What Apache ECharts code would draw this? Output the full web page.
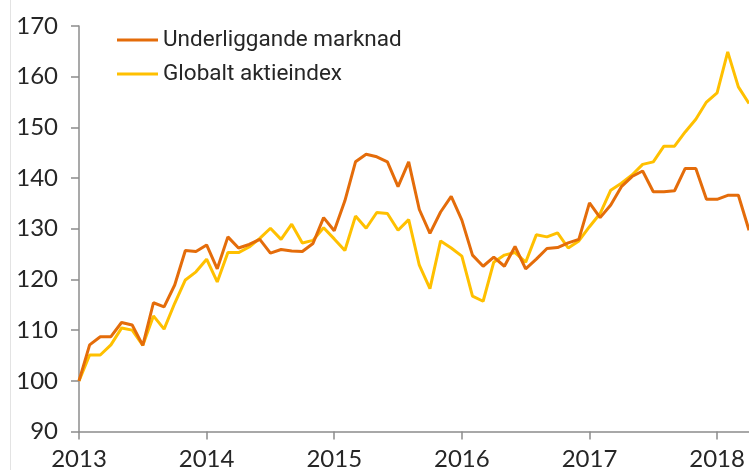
<!DOCTYPE html>
<html>
<head>
<meta charset="utf-8">
<script src="https://cdn.jsdelivr.net/npm/echarts@6/dist/echarts.min.js"></script>
<style>
  html, body { margin: 0; padding: 0; background: #fff; }
  #chart { width: 749px; height: 470px; }
</style>
</head>
<body>
<div id="chart"></div>
<script>
// monthly index values, Jan 2013 = 100
const years = ['2013', '2014', '2015', '2016', '2017', '2018'];
const seriesNames = ['Underliggande marknad', 'Globalt aktieindex'];

const underlying = [
  100, 107.1, 108.7, 108.7, 111.5, 111.0, 107.0, 115.4, 114.6, 118.9, 125.7, 125.5,
  126.8, 122.1, 128.4, 126.2, 126.9, 127.9, 125.2, 125.9, 125.6, 125.5, 127.1, 132.2,
  129.6, 135.5, 143.2, 144.7, 144.2, 143.2, 138.3, 143.2, 133.8, 129.1, 133.3, 136.4,
  131.7, 124.8, 122.6, 124.4, 122.6, 126.5, 122.1, 124.0, 126.1, 126.3, 127.2, 127.9,
  135.1, 132.2, 134.7, 138.3, 140.3, 141.4, 137.3, 137.3, 137.5, 141.9, 141.9, 135.8,
  135.8, 136.6, 136.6, 129.7
];
const globalIndex = [
  100, 105.1, 105.1, 107.1, 110.4, 110.0, 107.0, 112.8, 110.2, 115.3, 119.9, 121.5,
  124.0, 119.5, 125.3, 125.3, 126.4, 128.1, 130.1, 127.9, 130.9, 127.2, 127.7, 130.2,
  128.0, 125.7, 132.5, 130.1, 133.2, 133.0, 129.7, 131.8, 122.8, 118.2, 127.6, 126.2,
  124.6, 116.7, 115.7, 123.4, 124.8, 125.3, 123.4, 128.8, 128.4, 129.2, 126.2, 127.6,
  130.4, 133.0, 137.6, 139.0, 140.6, 142.7, 143.2, 146.3, 146.3, 149.1, 151.6, 155.0,
  156.8, 164.9, 158.0, 154.7
];

// one category per month, labelled with the year in January
const months = [];
for (let i = 0; i < underlying.length; i++) {
  const y = years[Math.floor(i / 12)];
  months.push(y + '-' + String(i % 12 + 1).padStart(2, '0'));
}

const font = 'Lato, "Liberation Sans", sans-serif';
const legendFont = 'Roboto, "Liberation Sans", sans-serif';   // Lato turns "ti" into a ligature
const axisGray = '#8c8c8c';

const chart = echarts.init(document.getElementById('chart'));
chart.setOption({
  animation: false,
  backgroundColor: '#fff',
  grid: { left: 79, right: 0, top: 26, bottom: 38.5, outerBoundsMode: 'none' },
  graphic: [{
    type: 'line',
    shape: { x1: 10.5, y1: 0, x2: 10.5, y2: 470 },
    style: { stroke: '#e3e3e3', lineWidth: 1 }
  }],
  legend: {
    orient: 'vertical',
    left: 112,
    top: 23,
    icon: 'rect',
    itemWidth: 41,
    itemHeight: 3,
    itemGap: 10,
    textStyle: { fontFamily: legendFont, fontSize: 22.5, color: '#262626', lineHeight: 24 },
    data: seriesNames
  },
  xAxis: {
    type: 'category',
    data: months,
    boundaryGap: false,
    axisLine: { lineStyle: { color: axisGray, width: 1.5 } },
    axisTick: { interval: 11, length: 8, lineStyle: { color: axisGray, width: 1.5 } },
    axisLabel: {
      interval: 11,
      margin: 16,
      fontFamily: font,
      fontSize: 24,
      color: '#262626',
      formatter: v => v.slice(0, 4)
    },
    splitLine: { show: false }
  },
  yAxis: {
    type: 'value',
    min: 90,
    max: 170,
    interval: 10,
    axisLine: { show: true, lineStyle: { color: axisGray, width: 1.5 } },
    axisTick: { show: true, length: 8, lineStyle: { color: axisGray, width: 1.5 } },
    axisLabel: { margin: 21, fontFamily: font, fontSize: 24, color: '#262626' },
    splitLine: { show: false }
  },
  series: [
    {
      name: seriesNames[0],
      type: 'line',
      data: underlying,
      symbol: 'none',
      z: 3,
      lineStyle: { color: '#E46C0A', width: 3 },
      itemStyle: { color: '#E46C0A' }
    },
    {
      name: seriesNames[1],
      type: 'line',
      data: globalIndex,
      symbol: 'none',
      z: 2,
      lineStyle: { color: '#FFC000', width: 3 },
      itemStyle: { color: '#FFC000' }
    }
  ]
});
</script>
</body>
</html>
